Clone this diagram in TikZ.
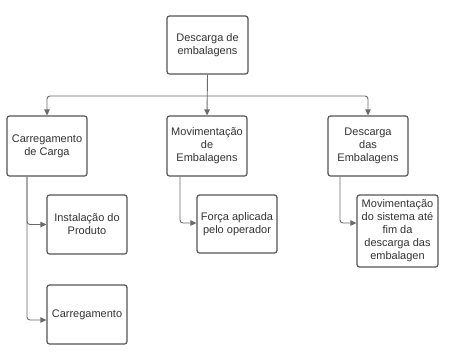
\documentclass[tikz,border=0pt]{standalone}
\usepackage{fontspec}
\setmainfont{Liberation Sans}
\usetikzlibrary{arrows.meta}
\definecolor{bord}{HTML}{555555}
\definecolor{linec}{HTML}{6A6A6A}
\definecolor{txt}{HTML}{333333}
\begin{document}
\begin{tikzpicture}[x=1pt,y=-1pt,
  box/.style={draw=bord,line width=1.2pt,rounded corners=2.5pt,fill=white,
    minimum width=80pt,minimum height=59pt,inner sep=1pt,align=center,
    text=txt,font=\fontsize{11}{13}\selectfont},
  conn/.style={draw=linec,line width=0.9pt,rounded corners=3pt,
    -{Triangle[length=6pt,width=5.5pt]}}]
\useasboundingbox (0,0) rectangle (452,354);
\node[box,minimum height=58pt,minimum width=81pt] (top) at (207.5,45) {Descarga de\\embalagens};
\node[box,minimum height=60pt] (b1) at (47,146) {Carregamento\\de Carga};
\node[box,minimum height=60pt] (b2) at (207,146) {Movimentação\\de\\Embalagens};
\node[box,minimum height=60pt] (b3) at (368,146) {Descarga\\das\\Embalagens};
\node[box] (inst) at (87,224.5) {Instalação do\\Produto};
\node[box] (carr) at (87,314.5) {Carregamento};
\node[box,minimum height=58pt] (forca) at (237,224) {Força aplicada\\pelo operador};
\node[box,minimum height=72pt,minimum width=81pt] (mov) at (397.5,231) {Movimentação\\do sistema até\\fim da\\descarga das\\embalagen};
\coordinate (j) at (207.5,96);
\draw[conn] (top.south) -- (b2.north);
\draw[conn] (j) -| (b1.north);
\draw[conn] (j) -| (b3.north);
\draw[conn] ([xshift=-20pt]b1.south) |- (inst.west);
\draw[conn] ([xshift=-20pt]b1.south) |- ([yshift=-5.5pt]carr.west);
\draw[conn] ([xshift=-27pt]b2.south) |- ([yshift=1pt]forca.west);
\draw[conn] ([xshift=-28pt]b3.south) |- ([yshift=8pt]mov.west);
\end{tikzpicture}
\end{document}
